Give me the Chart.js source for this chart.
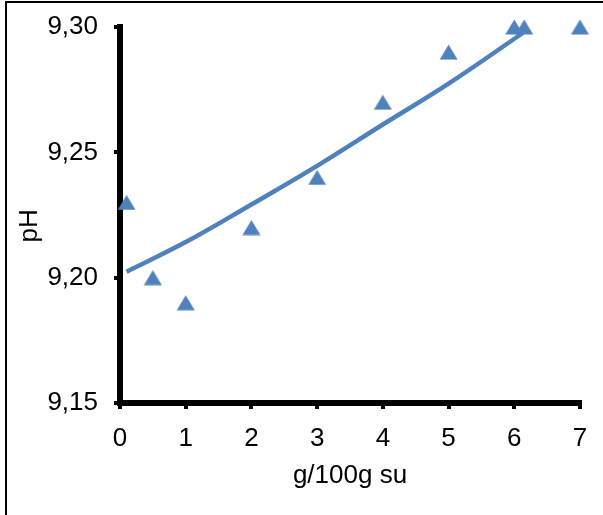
<!DOCTYPE html>
<html>
<head>
<meta charset="utf-8">
<script src="https://cdn.jsdelivr.net/npm/chart.js@4/dist/chart.umd.min.js"></script>
<style>
  body { margin: 0; background: #fff; }
  canvas { display: block; }
</style>
</head>
<body>
<canvas id="c" width="603" height="515"></canvas>
<script>
// measured points
const xVals = [0.1, 0.5, 1, 2, 3, 4, 5, 6, 6.15, 7];
const phVals = [9.23, 9.20, 9.19, 9.22, 9.24, 9.27, 9.29, 9.30, 9.30, 9.30];

// trend line
const trendX = [0.1, 1, 2, 3, 4, 5, 6.13];
const trendY = [9.2024, 9.2142, 9.2292, 9.2446, 9.2611, 9.2774, 9.2976];

const yTicks = [9.15, 9.20, 9.25, 9.30];
const xTicks = [0, 1, 2, 3, 4, 5, 6, 7];

const blue = "#4F81BD";
const font = { family: "Liberation Sans, Arial, sans-serif", size: 26 };

// excel style marker: triangle centred on its box, not on its centroid
const tri = document.createElement("canvas");
tri.width = 19;
tri.height = 16;
(() => {
  const t = tri.getContext("2d");
  t.fillStyle = blue;
  t.beginPath();
  t.moveTo(9.5, 0.5);
  t.lineTo(18.5, 15.5);
  t.lineTo(0.5, 15.5);
  t.closePath();
  t.fill();
})();

const frame = {
  id: "frame",
  afterDraw(chart) {
    const c = chart.ctx;
    c.save();
    c.strokeStyle = "#000";
    c.lineWidth = 2;
    c.beginPath();
    c.moveTo(6, 515);
    c.lineTo(6, 2);
    c.lineTo(603, 2);
    c.stroke();
    c.restore();
  },
};

new Chart(document.getElementById("c"), {
  type: "scatter",
  data: {
    datasets: [
      {
        data: trendX.map((x, i) => ({ x: x, y: trendY[i] })),
        showLine: true,
        borderColor: blue,
        borderWidth: 4.5,
        pointRadius: 0,
        tension: 0.4,
        clip: false,
      },
      {
        data: xVals.map((x, i) => ({ x: x, y: phVals[i] })),
        pointStyle: tri,
        pointRadius: 10,
        backgroundColor: blue,
        borderColor: blue,
        clip: false,
      },
    ],
  },
  options: {
    responsive: false,
    animation: false,
    layout: { padding: { top: 27, right: 23, bottom: 0, left: 0 } },
    plugins: { legend: { display: false }, tooltip: { enabled: false } },
    scales: {
      x: {
        type: "linear",
        min: 0,
        max: 7,
        afterFit: (s) => {
          s.height = 112;
          s.paddingLeft = 0;
          s.paddingRight = 0;
        },
        afterBuildTicks: (s) => { s.ticks = xTicks.map((v) => ({ value: v })); },
        ticks: { color: "#000", font: font, padding: 14, maxRotation: 0 },
        grid: { drawOnChartArea: false, drawTicks: true, tickLength: 6, lineWidth: 4, color: "#000" },
        border: { display: true, width: 6, color: "#000" },
        title: { display: true, text: "g/100g su", color: "#000", font: font, padding: { top: 0, bottom: 24 } },
      },
      y: {
        type: "linear",
        min: 9.15,
        max: 9.30,
        afterFit: (s) => {
          s.width = 120;
          s.paddingTop = 0;
          s.paddingBottom = 0;
        },
        afterBuildTicks: (s) => { s.ticks = yTicks.map((v) => ({ value: v })); },
        ticks: {
          color: "#000",
          font: font,
          padding: 16,
          callback: (v) => v.toFixed(2).replace(".", ","),
        },
        grid: { drawOnChartArea: false, drawTicks: true, tickLength: 6, lineWidth: 4, color: "#000" },
        border: { display: true, width: 6, color: "#000" },
        // trailing spaces push the rotated title a little lower, as in the original
        title: { display: true, text: "pH   ", color: "#000", font: font, padding: { top: 14, bottom: 0 } },
      },
    },
  },
  plugins: [frame],
});
</script>
</body>
</html>
